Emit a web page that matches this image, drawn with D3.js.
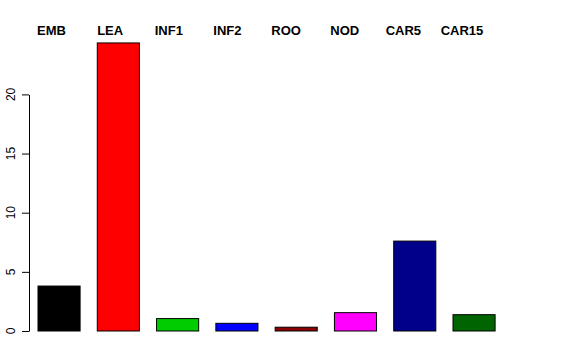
<!DOCTYPE html>
<html>
<head>
<meta charset="utf-8">
<script src="https://cdn.jsdelivr.net/npm/d3@7"></script>
<style>
  body { margin: 0; background: #fff; }
  svg { display: block; font-family: "Liberation Sans", Arial, sans-serif; }
</style>
</head>
<body>
<div id="chart"></div>
<script>
const categories = ['EMB', 'LEA', 'INF1', 'INF2', 'ROO', 'NOD', 'CAR5', 'CAR15'];
const values = [3.8, 24.35, 1.05, 0.65, 0.32, 1.55, 7.6, 1.38];
const colors = ['#000000', '#FF0000', '#00CD00', '#0000FF', '#8B0000', '#FF00FF', '#00008B', '#006400'];
const yTicks = [0, 5, 10, 15, 20];

const width = 576, height = 360;

const svg = d3.select('#chart')
    .append('svg')
    .attr('width', width)
    .attr('height', height);

const xScale = d3.scaleBand()
    .domain(categories)
    .range([38, 495.1])
    .paddingInner(0.29)
    .paddingOuter(0);

// labels sit a bit left of the bar centres
const labelScale = d3.scalePoint()
    .domain(categories)
    .range([51.5, 462]);

const yScale = d3.scaleLinear()
    .domain([0, 20])
    .range([331, 94.4]);

svg.selectAll('rect.bar')
    .data(values)
    .enter()
    .append('rect')
    .attr('class', 'bar')
    .attr('x', (d, i) => xScale(categories[i]))
    .attr('y', d => yScale(d))
    .attr('width', xScale.bandwidth())
    .attr('height', d => yScale(0) - yScale(d))
    .attr('fill', (d, i) => colors[i])
    .attr('stroke', '#000')
    .attr('stroke-width', 1);

const yAxis = svg.append('g')
    .attr('transform', 'translate(29,0)')
    .call(d3.axisLeft(yScale).tickValues(yTicks).tickSize(7).tickSizeOuter(0));

yAxis.selectAll('text').remove();
yAxis.select('.domain').attr('stroke', '#000');
yAxis.selectAll('.tick line').attr('stroke', '#000');

svg.append('g')
    .selectAll('text')
    .data(yTicks)
    .enter()
    .append('text')
    .attr('transform', d => `translate(14.5,${yScale(d)}) rotate(-90)`)
    .attr('text-anchor', 'middle')
    .attr('font-size', 12)
    .attr('fill', '#000')
    .text(d => d);

svg.append('g')
    .selectAll('text')
    .data(categories)
    .enter()
    .append('text')
    .attr('x', d => labelScale(d))
    .attr('y', 35)
    .attr('text-anchor', 'middle')
    .attr('font-size', 13)
    .attr('font-weight', 'bold')
    .attr('fill', '#000')
    .text(d => d);
</script>
</body>
</html>
